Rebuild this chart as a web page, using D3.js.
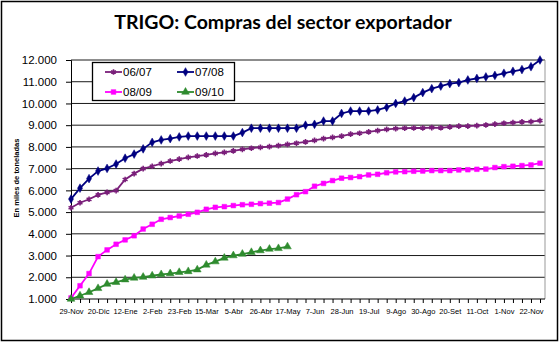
<!DOCTYPE html>
<html><head><meta charset="utf-8">
<script src="https://cdn.jsdelivr.net/npm/d3@7"></script>
<style>body{margin:0;background:#fff}svg{display:block}</style>
</head><body><svg id="c" width="560" height="343"></svg>
<script>
const tickLabels = ["29-Nov","20-Dic","12-Ene","2-Feb","23-Feb","15-Mar","5-Abr","26-Abr","17-May","7-Jun","28-Jun","19-Jul","9-Ago","30-Ago","20-Set","11-Oct","1-Nov","22-Nov"];
const yTicks = [1000,2000,3000,4000,5000,6000,7000,8000,9000,10000,11000,12000];
const seriesNames = ["06/07","07/08","08/09","09/10"];
const s0607 = [5200,5430,5590,5790,5910,5990,6500,6770,7000,7110,7230,7350,7440,7520,7580,7630,7700,7750,7820,7890,7940,7980,8010,8060,8120,8170,8230,8300,8380,8440,8500,8590,8630,8690,8750,8810,8840,8860,8870,8870,8890,8880,8920,8960,8960,8980,9010,9050,9090,9120,9150,9160,9210];
const s0708 = [5600,6100,6540,6890,7010,7210,7480,7670,7910,8210,8320,8380,8460,8500,8500,8500,8500,8500,8500,8660,8860,8860,8860,8860,8860,8860,9000,9040,9190,9190,9540,9650,9650,9650,9700,9820,10000,10110,10270,10500,10680,10800,10910,10960,11080,11150,11220,11290,11390,11480,11560,11690,12000];
const s0809 = [1050,1610,2170,2950,3260,3520,3720,3910,4220,4440,4670,4750,4820,4900,4990,5130,5220,5250,5300,5340,5360,5390,5410,5440,5600,5800,5940,6190,6320,6450,6560,6590,6630,6710,6740,6810,6850,6860,6880,6890,6910,6910,6910,6940,6950,6970,6980,7050,7090,7110,7140,7170,7250];
const s0910 = [1000,1150,1310,1490,1690,1770,1890,1970,2010,2070,2130,2170,2230,2270,2350,2570,2720,2890,3000,3070,3150,3230,3300,3330,3410];
const colors = ["#7a1f7a","#000080","#ff00ff","#2e8b2e"];

const svg = d3.select("#c");
const N = 53;
const x = d3.scalePoint().domain(d3.range(N)).range([71, 540]);
const y = d3.scaleLinear().domain([1000, 12000]).range([299, 60]);
const plotRight = 545;

// outer border
svg.append("rect").attr("x",1.5).attr("y",1.5).attr("width",556).attr("height",339)
  .attr("fill","#fff").attr("stroke","#000").attr("stroke-width",1.5);

// title
svg.append("text").attr("x",283).attr("y",29).attr("text-anchor","middle")
  .attr("font-family","Lato, 'Open Sans', sans-serif").attr("font-weight","bold").attr("font-size",19.5)
  .text("TRIGO: Compras del sector exportador");

// gridlines
svg.append("g").selectAll("line").data(yTicks.filter(d=>d>1000)).join("line")
  .attr("x1",71).attr("x2",plotRight).attr("y1",d=>y(d)).attr("y2",d=>y(d))
  .attr("stroke","#1a1a1a").attr("stroke-width",1);
// right plot border
svg.append("line").attr("x1",plotRight).attr("x2",plotRight).attr("y1",y(12000)).attr("y2",y(1000))
  .attr("stroke","#999").attr("stroke-width",1);

// y axis
const yAxis = svg.append("g").attr("transform","translate(71,0)")
  .call(d3.axisLeft(y).tickValues(yTicks).tickSize(5).tickPadding(9)
    .tickFormat(d => d3.format(",")(d).replace(/,/g,".")));
yAxis.select(".domain").attr("stroke","#000");
yAxis.selectAll(".tick line").attr("stroke","#000");
yAxis.selectAll("text").attr("font-family","'Liberation Sans', Arial, sans-serif").attr("font-size",11.5).attr("fill","#000");

// x axis
const xAxis = svg.append("g").attr("transform","translate(0,299)")
  .call(d3.axisBottom(x).tickValues(d3.range(N)).tickSize(4).tickSizeOuter(0).tickPadding(6)
    .tickFormat(i => i % 3 === 0 ? tickLabels[i/3] : ""));
xAxis.select(".domain").attr("d","M71,0H"+plotRight).attr("stroke","#000");
xAxis.selectAll(".tick line").attr("stroke","#000");
xAxis.selectAll("text").attr("font-family","'Liberation Sans Narrow','Liberation Sans', Arial, sans-serif").attr("font-size",7.5).attr("fill","#000");

// y title
svg.append("text").attr("transform","translate(19,178) rotate(-90)").attr("text-anchor","middle")
  .attr("font-family","'Liberation Sans Narrow','Liberation Sans', Arial, sans-serif").attr("font-weight","bold").attr("font-size",7.5)
  .text("En miles de toneladas");

const seriesData = [s0607, s0708, s0809, s0910];
const symbols = [d3.symbolAsterisk, d3.symbolDiamond, d3.symbolSquare, d3.symbolTriangle];
const symSizes = [22, 22, 22, 26];
const line = d3.line().x((d,i)=>x(i)).y(d=>y(d));

function drawMarker(g, k, cx, cy) {
  const p = g.append("path").attr("transform",`translate(${cx},${cy})`)
    .attr("d", d3.symbol().type(symbols[k]).size(symSizes[k])());
  if (k === 0) p.attr("fill","none").attr("stroke",colors[k]).attr("stroke-width",1.6);
  else p.attr("fill",colors[k]).attr("stroke",colors[k]).attr("stroke-width",0.5);
}

seriesData.forEach((data,k) => {
  const g = svg.append("g");
  g.append("path").datum(data).attr("d",line).attr("fill","none")
    .attr("stroke",colors[k]).attr("stroke-width",1.8);
  data.forEach((d,i) => drawMarker(g, k, x(i), y(d)));
});

// legend
const lg = svg.append("g");
lg.append("rect").attr("x",92.5).attr("y",62.5).attr("width",142).attr("height",38)
  .attr("fill","#fff").attr("stroke","#000").attr("stroke-width",1.3);
const legPos = [[105,72],[177,72],[105,92],[177,92]];
seriesNames.forEach((nm,k) => {
  const [lx,ly] = legPos[k];
  lg.append("line").attr("x1",lx).attr("x2",lx+17).attr("y1",ly).attr("y2",ly)
    .attr("stroke",colors[k]).attr("stroke-width",1.8);
  drawMarker(lg, k, lx+8.5, ly);
  lg.append("text").attr("x",lx+18).attr("y",ly+4).attr("font-family","'Liberation Sans', Arial, sans-serif")
    .attr("font-size",11.5).attr("fill","#000").text(nm);
});
</script></body></html>
